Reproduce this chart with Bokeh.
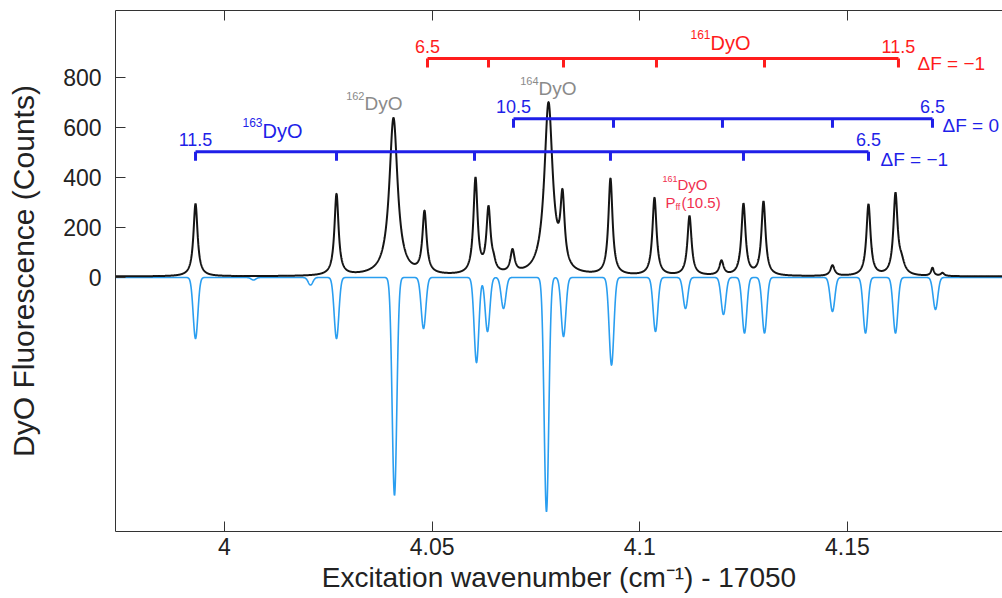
import numpy as np
from bokeh.plotting import figure
from bokeh.models import Range1d, LinearAxis, FixedTicker
from bokeh.core.properties import value
from bokeh.embed import file_html
from bokeh.resources import INLINE

# ---------------- data ----------------
# x: excitation wavenumber (cm^-1) - 17050 ; y: counts
x_ticks = [4.0, 4.05, 4.1, 4.15]
x_tick_labels = ["4", "4.05", "4.1", "4.15"]
y_ticks = [0, 200, 400, 600, 800]

# observed fluorescence spectrum (black): line centres, peak heights, half widths
obs_center = [3.99302, 4.02697, 4.04069, 4.04816, 4.06044, 4.06357, 4.06477, 4.06935,
              4.07802, 4.08139, 4.09294, 4.10354, 4.11197, 4.11967, 4.12497, 4.12979,
              4.14640, 4.15507, 4.16157, 4.16300, 4.17048, 4.17289]
obs_height = [290, 325, 630, 245, 380, 255, 30, 90,
              685, 270, 385, 310, 238, 57, 285, 295,
              42, 285, 320, 45, 32, 12]
obs_hwhm = [0.0006, 0.0006, 0.0012, 0.0006, 0.0006, 0.0006, 0.0006, 0.0006,
            0.0012, 0.0006, 0.0006, 0.0006, 0.0006, 0.0006, 0.0006, 0.0006,
            0.0006, 0.0006, 0.0006, 0.0009, 0.0004, 0.0005]
obs_baseline = 4

# simulated spectrum (light blue, plotted downwards): centres and depths
sim_center = [3.99302, 4.00698, 4.02071, 4.02697, 4.04093, 4.04792, 4.06068, 4.06333,
              4.06718, 4.07753, 4.08163, 4.09319, 4.10378, 4.11100, 4.12015, 4.12521,
              4.13003, 4.14640, 4.15435, 4.16157, 4.17120]
sim_depth = [244, 10, 30, 244, 870, 204, 340, 216,
             124, 935, 236, 350, 216, 124, 148, 222,
             222, 136, 222, 222, 128]
sim_sigma = 0.00056

# assignment combs (line positions)
comb_161_dFm1 = [4.04888, 4.06357, 4.08163, 4.10402, 4.13003, 4.16229]
comb_163_dF0 = [4.06959, 4.09367, 4.11991, 4.14640, 4.17048]
comb_163_dFm1 = [3.99302, 4.02697, 4.06020, 4.09294, 4.12497, 4.15507]
comb_161_ends = ["6.5", "11.5"]
comb_163_dF0_ends = ["10.5", "6.5"]
comb_163_dFm1_ends = ["11.5", "6.5"]

# ---------------- build curves ----------------
X0, X1 = 3.97375, 4.18734
xs = np.linspace(X0, X1, 5000)
obs = np.full_like(xs, float(obs_baseline))
for c, h, g in zip(obs_center, obs_height, obs_hwhm):
    obs += h / (1.0 + ((xs - c) / g) ** 2)
sim = np.zeros_like(xs)
for c, d in zip(sim_center, sim_depth):
    sim -= d * np.exp(-0.5 * ((xs - c) / sim_sigma) ** 2)

FONT = "Liberation Sans"
RED = "#ff1c1c"
BLUE = "#1f1fe8"
GRAY = "#8a8a8a"

p = figure(width=1002, height=598,
           x_range=Range1d(X0, X1), y_range=Range1d(-1014, 1066),
           output_backend="svg", toolbar_location=None,
           min_border_left=115, min_border_right=0, min_border_top=10, min_border_bottom=67)
p.outline_line_color = None
p.xgrid.visible = False
p.ygrid.visible = False
p.background_fill_color = "white"

# axes
p.xaxis.ticker = FixedTicker(ticks=x_ticks)
p.xaxis.major_label_overrides = {t: l for t, l in zip(x_ticks, x_tick_labels)}
p.yaxis.ticker = FixedTicker(ticks=y_ticks)
for ax in (p.xaxis[0], p.yaxis[0]):
    ax.major_tick_in = 10
    ax.major_tick_out = 0
    ax.minor_tick_line_color = None
    ax.axis_line_color = "#333333"
    ax.major_tick_line_color = "#333333"
    ax.major_label_text_font = FONT
    ax.major_label_text_font_size = "23px"
    ax.major_label_text_color = "#222222"
    ax.axis_label_text_font = FONT
    ax.axis_label_text_font_size = "28px"
    ax.axis_label_text_font_style = "normal"
    ax.axis_label_text_color = "#222222"
p.yaxis.axis_label_text_font_size = "30px"
p.xaxis.axis_label = "Excitation wavenumber (cm\u207b\u00b9) - 17050"
p.yaxis.axis_label = "DyO Fluorescence (Counts)"
p.xaxis.major_label_standoff = 6
p.xaxis.axis_label_standoff = 4
p.yaxis.major_label_standoff = 14
p.yaxis.axis_label_standoff = 20

top = LinearAxis(ticker=FixedTicker(ticks=x_ticks), major_tick_in=10, major_tick_out=0,
                 minor_tick_line_color=None, axis_line_color="#333333",
                 major_tick_line_color="#333333", major_label_text_font_size="1px",
                 major_label_text_color=None, major_label_standoff=0)
p.add_layout(top, "above")

# spectra
p.line(xs, sim, line_color="#2a9ef0", line_width=1.6)
p.line(xs, obs, line_color="#151515", line_width=2.0)


def text(x, y, s, color, size, align="center", xo=0, yo=0, baseline="middle"):
    p.text(x=[x], y=[y], text=[s], text_color=color, text_font=value(FONT),
           text_font_size=size, text_align=align, text_baseline=baseline,
           x_offset=xo, y_offset=yo)


def iso(x, y, mass, color, size, sup, xo=0):
    text(x, y, "DyO", color, f"{size}px", align="left", xo=xo)
    text(x, y, mass, color, f"{sup}px", align="right", xo=xo, yo=-0.42 * size)


def comb(pos, y, color, ends, dF, dF_dx, dF_dy, drop=36):
    p.segment(x0=[pos[0]], y0=[y], x1=[pos[-1]], y1=[y], line_color=color, line_width=3)
    p.segment(x0=pos, y0=[y] * len(pos), x1=pos, y1=[y - drop] * len(pos),
              line_color=color, line_width=3)
    text(pos[0], y, ends[0], color, "18px", yo=-12)
    text(pos[-1], y, ends[1], color, "18px", yo=-12)
    text(pos[-1], y, dF, color, "19px", align="left", xo=dF_dx, yo=dF_dy)


comb(comb_161_dFm1, 874, RED, comb_161_ends, "\u0394F = \u22121", 19, 5)
comb(comb_163_dF0, 634, BLUE, comb_163_dF0_ends, "\u0394F = 0", 10, 7)
comb(comb_163_dFm1, 502, BLUE, comb_163_dFm1_ends, "\u0394F = \u22121", 12, 8)

iso(comb_161_dFm1[0], 874 + 63, "161", RED, 20, 12, xo=283)
iso(comb_163_dFm1[0], 502 + 84, "163", BLUE, 20, 12, xo=67)
iso(obs_center[2], 694, "162", GRAY, 19, 11, xo=-29)
iso(obs_center[8], 754, "164", GRAY, 19, 11, xo=-10)

# small red assignment label
iso(obs_center[12], 370, "161", "#f0304f", 15, 9, xo=-12)
text(obs_center[12], 298, "P", "#f0304f", "15px", align="left", xo=-24)
text(obs_center[12], 298, "ff", "#f0304f", "9px", align="left", xo=-14, yo=4)
text(obs_center[12], 298, "(10.5)", "#f0304f", "15px", align="left", xo=-8)

open("out.html", "w").write(file_html(p, INLINE))
